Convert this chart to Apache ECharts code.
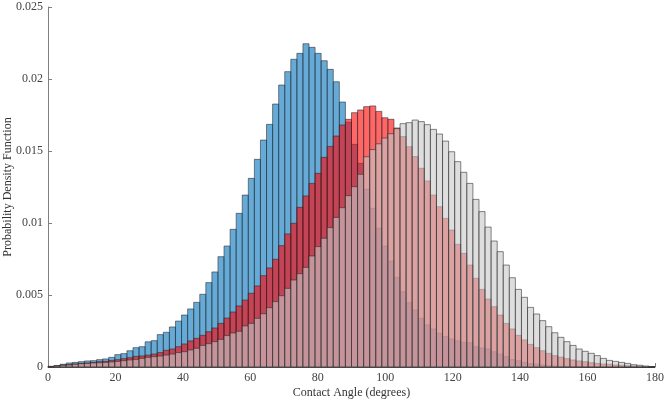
<!DOCTYPE html>
<html>
<head>
<meta charset="utf-8">
<script src="https://cdn.jsdelivr.net/npm/echarts@6/dist/echarts.min.js"></script>
<style>html,body{margin:0;padding:0;background:#fff}#c{width:666px;height:402px}</style>
</head>
<body>
<div id="c"></div>
<script>
// Histogram: 100 bins of 1.8 degrees from 0 to 180
var binStart = 0, binWidth = 1.8, binCount = 100;
var xTicks = [0, 20, 40, 60, 80, 100, 120, 140, 160, 180];
var yTicks = [0, 0.005, 0.01, 0.015, 0.02, 0.025];

var blueValues = [
0.00002,0.00009,0.00019,0.00028,0.00032,0.00037,0.00042,0.00044,0.00051,0.00056,
0.00067,0.00086,0.00093,0.00113,0.00134,0.00141,0.00175,0.00183,0.00225,0.00241,
0.00278,0.00319,0.00361,0.00403,0.00449,0.00505,0.00586,0.0066,0.00766,0.0084,
0.00956,0.01067,0.01194,0.0131,0.01442,0.01576,0.01685,0.01826,0.01958,0.02051,
0.02137,0.02178,0.02245,0.0222,0.02178,0.02127,0.02067,0.01981,0.0184,0.0170,
0.01546,0.01414,0.01234,0.01102,0.00963,0.0084,0.00736,0.00623,0.00523,0.00447,
0.00396,0.00338,0.00292,0.00264,0.00234,0.00211,0.00194,0.00181,0.00171,0.00169,
0.00141,0.00132,0.00125,0.00106,0.0009,0.00072,0.00051,0.00044,0.00032,0.00023,
0.00019,0.00014,0.00009,0.00007,0.00005,0.00004,0.00003,0.00002,0.00001,0.00001,
0,0,0,0,0,0,0,0,0,0];

var redValues = [
0.00005,0.00009,0.00014,0.00016,0.00021,0.00025,0.00028,0.00032,0.00037,0.00039,
0.00046,0.00051,0.00058,0.00065,0.00074,0.00077,0.00083,0.0009,0.001,0.00116,
0.00125,0.00141,0.0016,0.00181,0.00199,0.0022,0.00245,0.00271,0.00303,0.0034,
0.00382,0.00424,0.00465,0.00512,0.00563,0.00634,0.00688,0.00748,0.00843,0.00924,
0.00998,0.01109,0.01188,0.01275,0.01345,0.01456,0.01532,0.01604,0.01681,0.0172,
0.01766,0.01785,0.01808,0.01813,0.01775,0.01731,0.0172,0.0166,0.0160,0.0153,
0.01461,0.0138,0.01292,0.01194,0.01113,0.01032,0.00951,0.00852,0.00789,0.00708,
0.00616,0.00539,0.00472,0.00419,0.00361,0.00303,0.00264,0.0022,0.00188,0.00157,
0.00134,0.00113,0.00095,0.00079,0.00069,0.00058,0.00049,0.00042,0.00037,0.0003,
0.00025,0.00021,0.00019,0.00014,0.00012,0.00009,0.00007,0.00005,0.00002,0.00001];

var grayValues = [
0.00002,0.00007,0.00012,0.00014,0.00019,0.00023,0.00025,0.00028,0.0003,0.00032,
0.00035,0.00039,0.00044,0.00049,0.00053,0.0006,0.00067,0.00072,0.00076,0.00083,
0.0009,0.001,0.00106,0.00118,0.0013,0.0015,0.00162,0.00176,0.00192,0.00218,
0.00236,0.00248,0.00285,0.00303,0.00338,0.0037,0.00412,0.00454,0.00495,0.00546,
0.00604,0.00648,0.00692,0.00771,0.00836,0.00894,0.00968,0.01039,0.01106,0.0119,
0.01252,0.01338,0.0146,0.0151,0.0155,0.0159,0.0162,0.01655,0.0169,0.01697,
0.01715,0.01704,0.01683,0.0165,0.01618,0.01569,0.01495,0.01426,0.01352,0.01275,
0.01164,0.01079,0.00972,0.00875,0.00801,0.00708,0.0062,0.00539,0.00484,0.00414,
0.00368,0.00322,0.0028,0.00238,0.00206,0.00176,0.0015,0.00125,0.00109,0.00095,
0.00079,0.0006,0.00046,0.00039,0.00032,0.00025,0.00016,0.00012,0.00007,0.00002];

function toBins(values) {
  return values.map(function (v, i) {
    var s = binStart + i * binWidth;
    return [s, s + binWidth, v];
  });
}

function histSeries(name, values, fill) {
  return {
    name: name,
    type: 'custom',
    data: toBins(values),
    encode: { x: [0, 1], y: 2 },
    renderItem: function (params, api) {
      var p0 = api.coord([api.value(0), api.value(2)]);
      var p1 = api.coord([api.value(1), 0]);
      return {
        type: 'rect',
        shape: { x: p0[0], y: p0[1], width: p1[0] - p0[0], height: p1[1] - p0[1] },
        style: { fill: fill, stroke: 'rgba(40,40,40,0.7)', lineWidth: 0.8 }
      };
    }
  };
}

var font = 'Liberation Serif';
var chart = echarts.init(document.getElementById('c'));
chart.setOption({
  animation: false,
  backgroundColor: '#ffffff',
  grid: { left: 48, right: 11, top: 7, bottom: 35, containLabel: false, outerBoundsMode: 'none' },
  xAxis: {
    type: 'value', min: 0, max: 180, interval: 20,
    name: 'Contact Angle (degrees)', nameLocation: 'middle', nameGap: 20,
    nameMoveOverlap: false,
    nameTextStyle: { fontFamily: font, fontSize: 12, color: '#333' },
    axisLine: { lineStyle: { color: '#7f7f7f', width: 1 } },
    axisTick: { inside: true, length: 4, lineStyle: { color: '#7f7f7f' } },
    axisLabel: { fontFamily: font, fontSize: 12, color: '#444', margin: 5 },
    splitLine: { show: false }
  },
  yAxis: {
    type: 'value', min: 0, max: 0.025, interval: 0.005,
    name: 'Probability Density Function', nameLocation: 'middle', nameGap: 34,
    nameMoveOverlap: false,
    nameTextStyle: { fontFamily: font, fontSize: 12, color: '#333' },
    axisLine: { show: true, lineStyle: { color: '#7f7f7f', width: 1 } },
    axisTick: { show: true, inside: true, length: 4, lineStyle: { color: '#7f7f7f' } },
    axisLabel: { fontFamily: font, fontSize: 12, color: '#444', margin: 5,
      formatter: function (v) { return String(+v.toFixed(3)); } },
    splitLine: { show: false }
  },
  series: [
    histSeries('Blue', blueValues, 'rgba(0,114,189,0.6)'),
    histSeries('Red', redValues, 'rgba(255,0,0,0.6)'),
    histSeries('Gray', grayValues, 'rgba(200,200,200,0.6)')
  ]
});
</script>
</body>
</html>
